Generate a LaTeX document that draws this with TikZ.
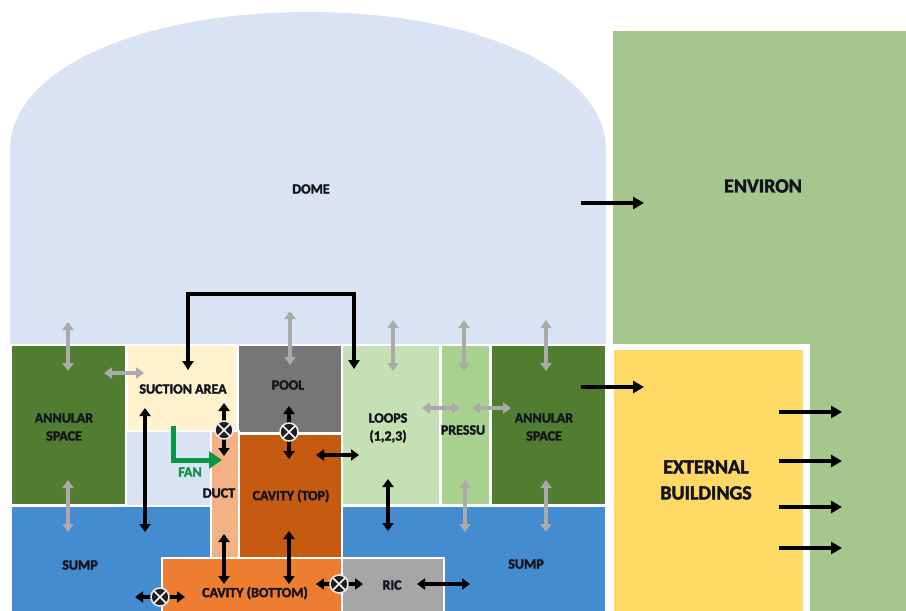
\documentclass[tikz,border=0pt]{standalone}
\usepackage{fontspec}
\setmainfont{Carlito}
\newfontfamily\lblfont{Carlito}[UprightFeatures={FakeBold=2.2}, BoldFeatures={FakeBold=2.2}]
\usetikzlibrary{arrows.meta}
\definecolor{domec}{RGB}{218,227,243}
\definecolor{envc}{RGB}{165,199,141}
\definecolor{extc}{RGB}{255,217,102}
\definecolor{annc}{RGB}{80,125,48}
\definecolor{suctc}{RGB}{255,242,204}
\definecolor{poolc}{RGB}{118,118,118}
\definecolor{loopc}{RGB}{197,224,180}
\definecolor{pressc}{RGB}{169,209,142}
\definecolor{sumpc}{RGB}{68,140,208}
\definecolor{ctopc}{RGB}{197,90,17}
\definecolor{cbotc}{RGB}{237,125,49}
\definecolor{ductc}{RGB}{244,177,131}
\definecolor{ricc}{RGB}{165,165,165}
\definecolor{grayar}{RGB}{170,170,170}
\definecolor{fanc}{RGB}{10,150,70}
\definecolor{txtc}{RGB}{20,20,30}
\begin{document}
\begin{tikzpicture}[x=1pt,y=-1pt,
  box/.style={draw=white, line width=1.5pt, inner sep=0pt, anchor=north west},
  lbl/.style={font=\lblfont\bfseries\fontsize{14}{18}\selectfont, text=txtc, align=center, inner sep=0pt},
  biglbl/.style={font=\lblfont\bfseries\fontsize{20}{26}\selectfont, text=txtc, align=center, inner sep=0pt},
  garrow/.style={draw=grayar, line width=3.6pt, {Triangle[length=8pt,width=11pt]}-{Triangle[length=8pt,width=11pt]}},
  barrow/.style={draw=black, line width=3.4pt, {Triangle[length=8pt,width=11pt]}-{Triangle[length=8pt,width=11pt]}},
  sarrow/.style={draw=black, line width=3.8pt, -{Triangle[length=11pt,width=12pt]}},
  valve/.style={circle, fill=black!88, draw=white!85!gray, line width=1.5pt, minimum size=18pt, inner sep=0pt,
    path picture={\draw[white, line width=1.5pt]
      ([xshift=3pt,yshift=3pt]path picture bounding box.south west) -- ([xshift=-3pt,yshift=-3pt]path picture bounding box.north east)
      ([xshift=3pt,yshift=-3pt]path picture bounding box.north west) -- ([xshift=-3pt,yshift=3pt]path picture bounding box.south east);}}
]
\useasboundingbox (0,0) rectangle (906,611);
\clip (0,0) rectangle (906,611);
\fill[white] (0,0) rectangle (906,611);
% dome
\fill[domec] (10,615) -- (10,150) .. controls (10,68) and (143,12) .. (308,12)
  .. controls (473,12) and (606,68) .. (606,150) -- (606,615) -- cycle;
% environ and external buildings
\node[box, draw=none, fill=envc, minimum width=300, minimum height=590] (env) at (612,30) {};
\node[box, draw=none, fill=white, minimum width=202, minimum height=275] (extframe) at (607,343) {};
\node[box, draw=none, fill=extc, minimum width=189, minimum height=270] (ext) at (613,349) {};
% containment boxes
\node[box, fill=annc, minimum width=115, minimum height=160] (annL) at (10,344) {};
\node[box, fill=suctc, minimum width=110, minimum height=86] (suct) at (126,344) {};
\node[box, fill=poolc, minimum width=104, minimum height=88] (pool) at (237,344) {};
\node[box, fill=loopc, minimum width=98, minimum height=160] (loops) at (341,344) {};
\node[box, fill=pressc, minimum width=49, minimum height=160] (press) at (440,344) {};
\node[box, fill=annc, minimum width=115, minimum height=160] (annR) at (490,344) {};
\node[box, fill=sumpc, minimum width=202, minimum height=115] (sumpL) at (10,505) {};
\node[box, fill=sumpc, minimum width=264, minimum height=115] (sumpR) at (341,505) {};
\node[box, fill=ductc, minimum width=28, minimum height=128] (duct) at (210,430) {};
\node[box, fill=ctopc, minimum width=103, minimum height=124] (ctop) at (238,433) {};
\node[box, fill=cbotc, minimum width=180, minimum height=60] (cbot) at (161,557) {};
\node[box, fill=ricc, minimum width=102, minimum height=60] (ric) at (341,557) {};
% labels
\node[lbl] (tdome) at (311,189) {DOME};
\node[lbl] (tannL) at (64,427) {ANNULAR\\SPACE};
\node[lbl] (tsuct) at (183,389) {SUCTION AREA};
\node[lbl] (tpool) at (288,385) {POOL};
\node[lbl] (tloops) at (388,428) {LOOPS\\(1,2,3)};
\node[lbl] (tpress) at (463,430) {PRESSU};
\node[lbl] (tannR) at (544,427) {ANNULAR\\SPACE};
\node[lbl] (tduct) at (219,493) {DUCT};
\node[lbl] (tctop) at (291,496) {CAVITY (TOP)};
\node[lbl] (tsumpL) at (80,565) {SUMP};
\node[lbl] (tsumpR) at (526,564) {SUMP};
\node[lbl] (tcbot) at (255,593) {CAVITY (BOTTOM)};
\node[lbl] (tric) at (392,585) {RIC};
\node[biglbl] (tenv) at (763,186) {ENVIRON};
\node[biglbl] (text) at (706,480) {EXTERNAL\\BUILDINGS};
\node[lbl, text=fanc] (tfan) at (190,472) {FAN};
% coordinates for connectors
\coordinate (g1a) at (68,322); \coordinate (g1b) at (68,371);
\coordinate (g2a) at (104,373); \coordinate (g2b) at (144,373);
\coordinate (g3a) at (68,480); \coordinate (g3b) at (68,532);
\coordinate (g4a) at (290,311); \coordinate (g4b) at (290,365);
\coordinate (g5a) at (393,320); \coordinate (g5b) at (393,371);
\coordinate (g6a) at (464,320); \coordinate (g6b) at (464,371);
\coordinate (g7a) at (546,320); \coordinate (g7b) at (546,371);
\coordinate (g8a) at (422,408); \coordinate (g8b) at (460,408);
\coordinate (g9a) at (472,408); \coordinate (g9b) at (511,408);
\coordinate (g10a) at (465,480); \coordinate (g10b) at (465,532);
\coordinate (g11a) at (546,480); \coordinate (g11b) at (546,532);
% gray arrows
\foreach \i in {1,...,11} {\draw[garrow] (g\i a) -- (g\i b);}
% black double arrows
\coordinate (b1a) at (145,408); \coordinate (b1b) at (145,532);
\coordinate (b2a) at (316,455); \coordinate (b2b) at (359,455);
\coordinate (b3a) at (388,479); \coordinate (b3b) at (388,531);
\coordinate (b4a) at (224,534); \coordinate (b4b) at (224,584);
\coordinate (b5a) at (289,531); \coordinate (b5b) at (289,584);
\coordinate (b6a) at (417,584); \coordinate (b6b) at (470,584);
\coordinate (b7a) at (224,403); \coordinate (b7b) at (224,456);
\coordinate (b8a) at (289,406); \coordinate (b8b) at (289,459);
\coordinate (b9a) at (316,584); \coordinate (b9b) at (363,584);
\coordinate (b10a) at (135,597); \coordinate (b10b) at (185,597);
\foreach \i in {1,...,10} {\draw[barrow] (b\i a) -- (b\i b);}
% valves
\node[valve] (v1) at (224,430) {};
\node[valve] (v2) at (289,432) {};
\node[valve] (v3) at (339,584) {};
\node[valve] (v4) at (160,597) {};
% loop connector
\coordinate (lpa) at (354,369); \coordinate (lpb) at (188,370);
\draw[draw=black, line width=3.2pt, {Triangle[length=9pt,width=11pt]}-{Triangle[length=9pt,width=11pt]}]
  (lpa) -- (354,294) -- (188,294) -- (lpb);
% single arrows to outside
\coordinate (s1a) at (581,203); \coordinate (s1b) at (644,203);
\coordinate (s2a) at (581,387); \coordinate (s2b) at (644,387);
\coordinate (s3a) at (779,412); \coordinate (s3b) at (842,412);
\coordinate (s4a) at (779,461); \coordinate (s4b) at (842,461);
\coordinate (s5a) at (779,507); \coordinate (s5b) at (842,507);
\coordinate (s6a) at (779,548); \coordinate (s6b) at (842,548);
\foreach \i in {1,...,6} {\draw[sarrow] (s\i a) -- (s\i b);}
% fan
\coordinate (fa) at (173,426); \coordinate (fb) at (222,460);
\draw[draw=fanc, line width=5pt, -{Triangle[length=13pt,width=17pt]}] (fa) |- (fb);
\end{tikzpicture}
\end{document}
